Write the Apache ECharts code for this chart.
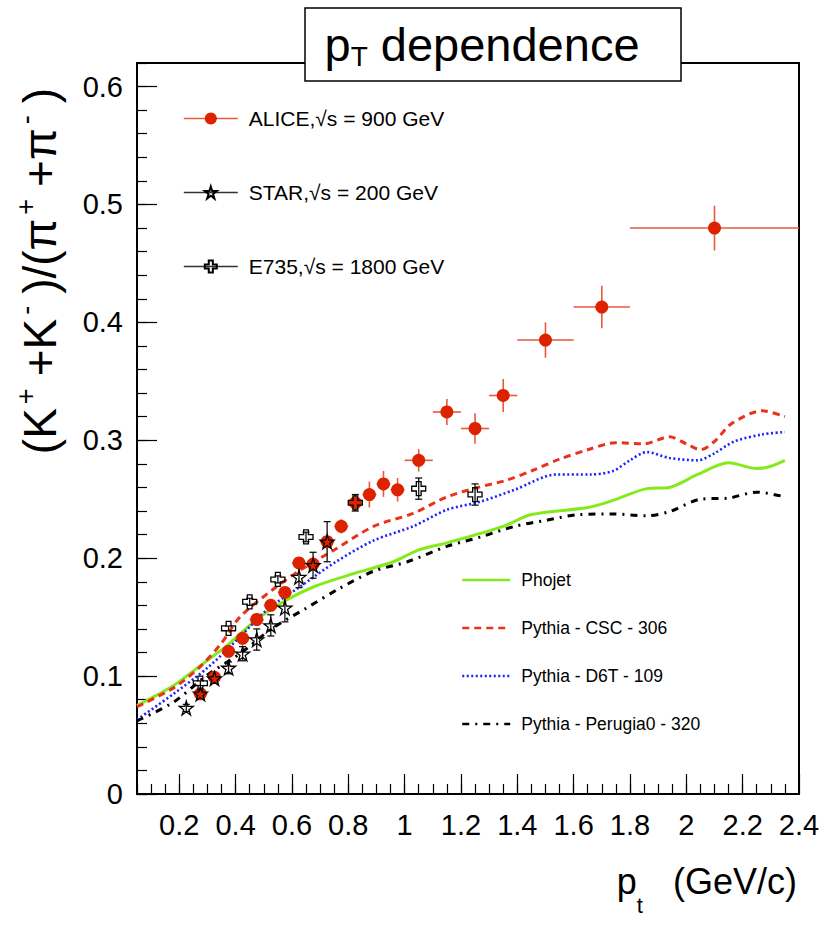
<!DOCTYPE html>
<html><head><meta charset="utf-8">
<script src="https://cdn.jsdelivr.net/npm/echarts@6/dist/echarts.min.js"></script>
<style>html,body{margin:0;padding:0;background:#fff}#c{width:840px;height:925px}</style>
</head><body><div id="c"></div>
<script>
// ---------------- data ----------------
const xTickLabels = [0.2,0.4,0.6,0.8,1,1.2,1.4,1.6,1.8,2,2.2,2.4];
const yTickLabels = [0,0.1,0.2,0.3,0.4,0.5,0.6];

const alicePt = [0.275,0.325,0.375,0.425,0.475,0.525,0.575,0.625,0.675,0.725,0.775,0.825,0.875,0.925,0.975,1.05,1.15,1.25,1.35,1.5,1.7,2.1];
const aliceR  = [0.085,0.099,0.121,0.132,0.148,0.160,0.171,0.196,0.195,0.214,0.227,0.247,0.254,0.263,0.258,0.283,0.324,0.310,0.338,0.385,0.413,0.480];
const aliceEx = [0.025,0.025,0.025,0.025,0.025,0.025,0.025,0.025,0.025,0.025,0.025,0.025,0.025,0.025,0.025,0.05,0.05,0.05,0.05,0.1,0.1,0.3];
const aliceEy = [0.003,0.003,0.003,0.003,0.004,0.004,0.004,0.005,0.005,0.006,0.006,0.007,0.011,0.011,0.010,0.0095,0.011,0.013,0.014,0.015,0.018,0.019];

const starPt = [0.225,0.275,0.325,0.375,0.425,0.475,0.525,0.575,0.625,0.675,0.725];
const starR  = [0.073,0.085,0.098,0.107,0.119,0.131,0.143,0.158,0.184,0.194,0.214];
const starEy = [0.003,0.003,0.004,0.005,0.006,0.009,0.009,0.012,0.009,0.011,0.017];

const e735Pt = [0.275,0.375,0.45,0.55,0.65,0.825,1.05,1.25];
const e735R  = [0.094,0.1405,0.163,0.182,0.218,0.247,0.259,0.254];
const e735Ey = [0.002,0.002,0.003,0.003,0.004,0.007,0.009,0.009];

const phojetX = [0.05,0.18,0.27,0.37,0.47,0.57,0.68,0.82,0.96,1.05,1.15,1.35,1.45,1.65,1.74,1.86,1.94,2.04,2.15,2.25,2.30,2.35];
const phojetY = [0.075,0.092,0.108,0.126,0.147,0.163,0.176,0.187,0.197,0.207,0.213,0.227,0.237,0.243,0.249,0.259,0.260,0.271,0.281,0.276,0.278,0.283];

const cscX = [0.05,0.18,0.27,0.35,0.415,0.53,0.63,0.75,0.89,1.03,1.15,1.26,1.36,1.46,1.55,1.65,1.75,1.85,1.94,2.0,2.05,2.1,2.16,2.27,2.35];
const cscY = [0.074,0.090,0.107,0.128,0.150,0.173,0.190,0.207,0.227,0.238,0.252,0.260,0.266,0.275,0.284,0.292,0.298,0.297,0.303,0.297,0.292,0.299,0.314,0.325,0.320];

const d6tX = [0.05,0.18,0.30,0.415,0.51,0.63,0.75,0.89,1.03,1.15,1.27,1.39,1.54,1.66,1.74,1.80,1.86,1.94,2.04,2.10,2.17,2.27,2.35];
const d6tY = [0.063,0.085,0.107,0.133,0.156,0.176,0.196,0.215,0.227,0.241,0.248,0.258,0.271,0.271,0.274,0.283,0.290,0.285,0.283,0.289,0.299,0.305,0.307];

const perX = [0.05,0.18,0.30,0.415,0.53,0.65,0.77,0.89,1.01,1.15,1.27,1.39,1.50,1.62,1.74,1.86,1.94,2.05,2.15,2.25,2.35];
const perY = [0.062,0.078,0.101,0.119,0.1405,0.1575,0.1745,0.189,0.197,0.210,0.218,0.227,0.232,0.237,0.2375,0.236,0.2395,0.250,0.251,0.256,0.252];

const names = {
  alice: 'ALICE,\u221As = 900 GeV',
  star: 'STAR,\u221As = 200 GeV',
  e735: 'E735,\u221As = 1800 GeV',
  phojet: 'Phojet',
  csc: 'Pythia - CSC - 306',
  d6t: 'Pythia - D6T - 109',
  per: 'Pythia - Perugia0 - 320'
};

// ---------------- chart ----------------
const FONT = '"Liberation Sans", Arial, Helvetica, sans-serif';
const X_MIN = 0.05, X_MAX = 2.4, Y_MIN = 0, Y_MAX = 0.62;
const xMinor = []; for (let i = 1; i <= 47; i++) xMinor.push(Math.round(i * 5) / 100);
const yMinor = []; for (let i = 0; i <= 31; i++) yMinor.push(Math.round(i * 2) / 100);

const zip = (a, b) => a.map((v, i) => [v, b[i]]);
const STAR_PATH = 'path://M50,0 L61,35 L98,35 L68,57 L79,91 L50,70 L21,91 L32,57 L2,35 L39,35 Z';
const CROSS_PATH = 'path://M33,0 H67 V33 H100 V67 H67 V100 H33 V67 H0 V33 H33 Z';

function errBars(id, xs, ys, exs, eys, color, width, cap) {
  return {
    type: 'custom', name: id, xAxisIndex: 0, yAxisIndex: 0, z: 3, silent: true,
    encode: { x: 0, y: 1 },
    data: xs.map((x, i) => [x, ys[i], exs ? exs[i] : 0, eys[i]]),
    renderItem: function (params, api) {
      const x = api.value(0), y = api.value(1), ex = api.value(2), ey = api.value(3);
      const ch = [];
      const st = { stroke: color, lineWidth: width };
      if (ex > 0) {
        const l = api.coord([x - ex, y]), r = api.coord([x + ex, y]);
        ch.push({ type: 'line', shape: { x1: l[0], y1: l[1], x2: r[0], y2: r[1] }, style: st });
      }
      if (ey > 0) {
        const t = api.coord([x, y + ey]), b = api.coord([x, y - ey]);
        ch.push({ type: 'line', shape: { x1: t[0], y1: t[1], x2: b[0], y2: b[1] }, style: st });
        if (cap) {
          ch.push({ type: 'line', shape: { x1: t[0] - cap, y1: t[1], x2: t[0] + cap, y2: t[1] }, style: st });
          ch.push({ type: 'line', shape: { x1: b[0] - cap, y1: b[1], x2: b[0] + cap, y2: b[1] }, style: st });
        }
      }
      return { type: 'group', children: ch };
    }
  };
}

function curve(name, xs, ys, color, width, dash) {
  return {
    type: 'line', name: name, xAxisIndex: 0, yAxisIndex: 0, z: 2,
    data: zip(xs, ys), symbol: 'none', smooth: 0.3,
    lineStyle: { color: color, width: width, type: dash, cap: 'butt' },
    itemStyle: { color: color }
  };
}

function markers(name, xs, ys, symbol, size, fill, stroke, bw) {
  return {
    type: 'line', name: name, xAxisIndex: 0, yAxisIndex: 0, z: 4,
    data: zip(xs, ys), symbol: symbol, symbolSize: size, showSymbol: true, showAllSymbol: true,
    lineStyle: { opacity: 0, width: 0 },
    itemStyle: { color: fill, borderColor: stroke, borderWidth: bw, opacity: 1 }
  };
}

const chart = echarts.init(document.getElementById('c'), null, { renderer: 'svg', width: 840, height: 925 });

const option = {
  animation: false,
  backgroundColor: '#fff',
  grid: { left: 137, right: 41, top: 63, bottom: 131, show: true, borderColor: '#000', borderWidth: 2, containLabel: false },
  xAxis: [
    { type: 'value', min: X_MIN, max: X_MAX, position: 'bottom', splitLine: { show: false },
      axisLine: { show: true, onZero: false, lineStyle: { color: '#000', width: 2 } },
      axisTick: { show: true, inside: true, length: 20, customValues: xTickLabels, lineStyle: { color: '#000', width: 1.2 } },
      axisLabel: { show: true, customValues: xTickLabels, fontSize: 29, color: '#000', fontFamily: FONT, margin: 16, hideOverlap: false } },
    { type: 'value', min: X_MIN, max: X_MAX, position: 'bottom', splitLine: { show: false },
      axisLine: { show: false },
      axisTick: { show: true, inside: true, length: 10, customValues: xMinor, lineStyle: { color: '#000', width: 1.2 } },
      axisLabel: { show: false } }
  ],
  yAxis: [
    { type: 'value', min: Y_MIN, max: Y_MAX, position: 'left', splitLine: { show: false },
      axisLine: { show: true, onZero: false, lineStyle: { color: '#000', width: 2 } },
      axisTick: { show: true, inside: true, length: 20, customValues: yTickLabels, lineStyle: { color: '#000', width: 1.2 } },
      axisLabel: { show: true, customValues: yTickLabels, fontSize: 29, color: '#000', fontFamily: FONT, margin: 14 } },
    { type: 'value', min: Y_MIN, max: Y_MAX, position: 'left', splitLine: { show: false },
      axisLine: { show: false },
      axisTick: { show: true, inside: true, length: 10, customValues: yMinor, lineStyle: { color: '#000', width: 1.2 } },
      axisLabel: { show: false } }
  ],
  legend: [
    { orient: 'vertical', left: 183, top: 108, padding: 0, itemWidth: 54, itemHeight: 15, itemGap: 53,
      selectedMode: false,
      textStyle: { fontSize: 21, color: '#000', fontFamily: FONT, padding: [0, 0, 0, 6] },
      data: [
        { name: names.alice, lineStyle: { color: '#e65a3e', width: 1.6, opacity: 1, type: 'solid' } },
        { name: names.star, lineStyle: { color: '#333', width: 1.6, opacity: 1, type: 'solid' } },
        { name: names.e735, lineStyle: { color: '#333', width: 1.6, opacity: 1, type: 'solid' } }
      ] },
    { orient: 'vertical', left: 461, top: 571, padding: 0, itemWidth: 48, itemHeight: 14, itemGap: 30,
      selectedMode: false,
      itemStyle: { opacity: 0 },
      lineStyle: { width: 2.5 },
      textStyle: { fontSize: 17.5, color: '#000', fontFamily: FONT, padding: [0, 0, 0, 6] },
      data: [
        { name: names.phojet, itemStyle: { opacity: 0 } },
        { name: names.csc, itemStyle: { opacity: 0 } },
        { name: names.d6t, itemStyle: { opacity: 0 } },
        { name: names.per, itemStyle: { opacity: 0 } }
      ] }
  ],
  series: [
    curve(names.phojet, phojetX, phojetY, '#84ea1c', 3, 'solid'),
    curve(names.csc, cscX, cscY, '#e8321a', 3, [7, 5]),
    curve(names.d6t, d6tX, d6tY, '#1f1fff', 2.6, [2, 2.5]),
    curve(names.per, perX, perY, '#000000', 3, [7, 6, 2, 6]),
    errBars('aliceErr', alicePt, aliceR, aliceEx, aliceEy, '#e65a3e', 1.6, 0),
    errBars('starErr', starPt, starR, null, starEy, '#111', 1.3, 3.5),
    errBars('e735Err', e735Pt, e735R, null, e735Ey, '#111', 1.3, 3.5),
    markers(names.alice, alicePt, aliceR, 'circle', 13, '#dd2200', '#dd2200', 0),
    markers(names.star, starPt, starR, STAR_PATH, 14, 'rgba(0,0,0,0)', '#000', 1.3),
    markers(names.e735, e735Pt, e735R, CROSS_PATH, 14, 'rgba(0,0,0,0)', '#000', 1.3)
  ],
  graphic: [
    { type: 'rect', z: 100, shape: { x: 305, y: 8, width: 376, height: 73 },
      style: { fill: '#fff', stroke: '#000', lineWidth: 1.5 } },
    { type: 'text', z: 101, x: 482, y: 44,
      style: { text: '{a|p}{b|T}{a| dependence}', align: 'center', verticalAlign: 'middle', textAlign: 'center', textVerticalAlign: 'middle',
        fill: '#000', font: '47px ' + FONT,
        rich: { a: { fontSize: 47, lineHeight: 52, fontFamily: FONT, fill: '#000' },
                b: { fontSize: 28, lineHeight: 28, fontFamily: FONT, verticalAlign: 'bottom', fill: '#000' } } } },
    { type: 'text', z: 101, x: 797, y: 846,
      style: { text: '{a|p}{b|t}{a|   (GeV/c)}', align: 'right', verticalAlign: 'top', textAlign: 'right', textVerticalAlign: 'top',
        fill: '#000', font: '36px ' + FONT,
        rich: { a: { fontSize: 36, lineHeight: 70, fontFamily: FONT, fill: '#000' },
                b: { fontSize: 22, lineHeight: 22, fontFamily: FONT, verticalAlign: 'bottom', fill: '#000' } } } },
    { type: 'text', z: 101, x: 40, y: 88, rotation: Math.PI / 2,
      style: { text: '{a|(K}{s|+}{a|+K}{s|-}{a|)/(\u03C0}{s|+}{a|+\u03C0}{s|-}{a|)}', align: 'right', verticalAlign: 'middle', textAlign: 'right', textVerticalAlign: 'middle',
        fill: '#000', font: '46px ' + FONT,
        rich: { a: { fontSize: 46, lineHeight: 56, fontFamily: FONT, fill: '#000' },
                s: { fontSize: 27, lineHeight: 27, fontFamily: FONT, verticalAlign: 'top', fill: '#000', padding: [0, 12, 0, 4] } } } }
  ]
};
chart.setOption(option);
</script></body></html>
